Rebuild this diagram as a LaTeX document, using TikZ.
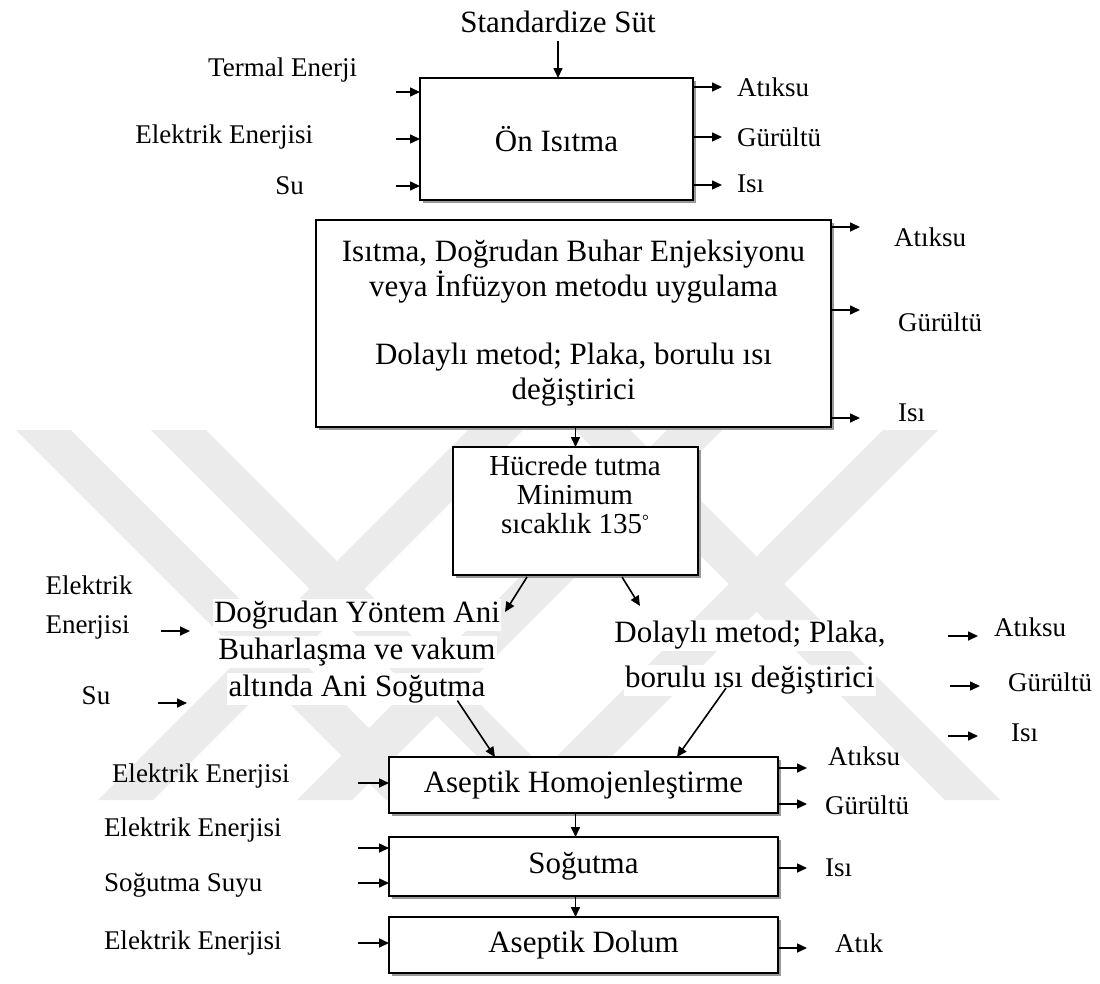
\documentclass[tikz,border=0pt]{standalone}
\usepackage{fontspec}
\setmainfont{Liberation Serif}
\usetikzlibrary{arrows.meta,calc,shadows}

\newcommand{\mainfs}{\fontsize{31}{36}\selectfont}
\newcommand{\lblfs}{\fontsize{27}{31}\selectfont}
\newcommand{\wl}[1]{{\setlength{\fboxsep}{1.5pt}\colorbox{white}{#1}}}
\newcommand{\degmark}{\raisebox{7pt}{\fontsize{17}{17}\selectfont °}}

\begin{document}
\begin{tikzpicture}[x=1pt,y=-1pt,
  every node/.style={inner sep=0pt, outer sep=0pt},
  proc/.style={draw=black, line width=2pt, fill=white,
    general shadow={fill=black!40, shadow xshift=3pt, shadow yshift=-3pt},
    font=\mainfs, align=center},
  lbl/.style={font=\lblfs},
  flowtxt/.style={font=\mainfs, align=center},
  arr/.style={line width=1.6pt, -{Triangle[length=10pt,width=9pt]}},
  wmband/.style={fill=black!8},
]
\useasboundingbox (0,0) rectangle (1100,983);
\fill[white] (0,0) rectangle (1100,983);

% faint background stripes
\foreach \t in {16,151,575}
  \fill[wmband] (\t,430) -- ++(55,0) -- ++(370,370) -- ++(-55,0) -- cycle;
\foreach \b in {98,297,513}
  \fill[wmband] (\b,800) -- ++(55,0) -- ++(370,-370) -- ++(-55,0) -- cycle;

% ---------- process boxes ----------
\node[proc, minimum width=273, minimum height=122] (b1) at (556.5,139) {Ön Isıtma};
\node[proc, minimum width=515, minimum height=207, font=\fontsize{31}{35}\selectfont] (b2) at (573.5,323.5)
  {Isıtma, Doğrudan Buhar Enjeksiyonu\\veya İnfüzyon metodu uygulama\\[33pt]Dolaylı metod; Plaka, borulu ısı\\değiştirici};
\node[proc, minimum width=245, minimum height=128] (b3) at (575.5,511) {};
\node[flowtxt, font=\fontsize{29}{29}\selectfont] (b3t) at (575,495) {Hücrede tutma\\Minimum\\sıcaklık 135\degmark};
\node[proc, minimum width=389, minimum height=56] (b4) at (583.5,785) {Aseptik Homojenleştirme};
\node[proc, minimum width=389, minimum height=59] (b5) at (583.5,866.5) {Soğutma};
\node[proc, minimum width=389, minimum height=56] (b6) at (583.5,945) {Aseptik Dolum};

% ---------- free-standing process texts ----------
\node[flowtxt, font=\fontsize{31}{37}\selectfont] (dy) at (357,652)
  {\wl{Doğrudan Yöntem Ani}\\\wl{Buharlaşma ve vakum}\\\wl{altında Ani Soğutma}};
\node[flowtxt, font=\fontsize{31}{45}\selectfont] (dl) at (750,658)
  {\wl{Dolaylı metod; Plaka,}\\\wl{borulu ısı değiştirici}};

% ---------- main flow ----------
\node[flowtxt] (std) at (558,22) {Standardize Süt};
\draw[arr] ($(std.south)+(0,8)$) -- (std.south |- b1.north);
\draw[arr] (b2.south -| b3.north) -- (b3.north);
\coordinate (dyin) at (505,612);
\coordinate (dlin) at (640,606);
\draw[arr] ($(b3.south west)+(74,2)$) -- (dyin);
\draw[arr] ($(b3.south west)+(169,2)$) -- (dlin);
\draw[arr] ($(dy.south east)+(-44,-4)$) -- ($(b4.north west)+(106,0)$);
\draw[arr] ($(dl.south)+(-24,-8)$) -- ($(b4.north west)+(288,0)$);
\draw[arr] (b4.south -| b3.south) -- (b5.north -| b3.south);
\draw[arr] (b5.south -| b3.south) -- (b6.north -| b3.south);

% ---------- inputs and outputs of Ön Isıtma ----------
\node[lbl, anchor=east] (t1) at (357,70) {Termal Enerji};
\node[lbl, anchor=east] (e1) at (313,137) {Elektrik Enerjisi};
\node[lbl, anchor=east] (s1) at (304,186) {Su};
\foreach \y/\n in {92/a,139/b,186/c}{
  \coordinate (i1\n) at (396,\y);
  \draw[arr] (i1\n) -- (i1\n -| b1.west);
}
\foreach \y/\n in {87/a,137/b,185/c}{
  \coordinate (o1\n) at (722,\y);
  \draw[arr] (o1\n -| b1.east) -- (o1\n);
}
\node[lbl, anchor=west] (w1) at (737,87) {Atıksu};
\node[lbl, anchor=west] (g1) at (737,137) {Gürültü};
\node[lbl, anchor=west] (h1) at (737,184) {Isı};

% ---------- outputs of the heating box ----------
\foreach \y/\n in {227/a,310/b,418/c}{
  \coordinate (o2\n) at (860,\y);
  \draw[arr] (o2\n -| b2.east) -- (o2\n);
}
\node[lbl, anchor=west] (w2) at (894,237) {Atıksu};
\node[lbl, anchor=west] (g2) at (898,322) {Gürültü};
\node[lbl, anchor=west] (h2) at (898,413) {Isı};

% ---------- direct method inputs ----------
\node[lbl, align=left, font=\fontsize{27}{39}\selectfont] (e3) at (89,607) {Elektrik\\Enerjisi};
\node[lbl] (s3) at (96,696) {Su};
\coordinate (i3a) at (161,631);
\coordinate (i3a') at (190,631);
\coordinate (i3b) at (158,703);
\coordinate (i3b') at (187,703);
\draw[arr] (i3a) -- (i3a');
\draw[arr] (i3b) -- (i3b');

% ---------- indirect method outputs ----------
\coordinate (o3a) at (948,636);  \coordinate (o3a') at (978,636);
\coordinate (o3b) at (950,686);  \coordinate (o3b') at (980,686);
\coordinate (o3c) at (948,736);  \coordinate (o3c') at (978,736);
\draw[arr] (o3a) -- (o3a');
\draw[arr] (o3b) -- (o3b');
\draw[arr] (o3c) -- (o3c');
\node[lbl, anchor=west] (w3) at (994,627) {Atıksu};
\node[lbl, anchor=west] (g3) at (1008,682) {Gürültü};
\node[lbl, anchor=west] (h3) at (1011,733) {Isı};

% ---------- homogenisation, cooling, filling ----------
\node[lbl, anchor=west] (e4) at (112,776) {Elektrik Enerjisi};
\coordinate (i4) at (358,783);
\draw[arr] (i4) -- (i4 -| b4.west);
\foreach \y/\n in {768/a,804/b}{
  \coordinate (o4\n) at (807,\y);
  \draw[arr] (o4\n -| b4.east) -- (o4\n);
}
\node[lbl, anchor=west] (w4) at (828,756) {Atıksu};
\node[lbl, anchor=west] (g4) at (825,805) {Gürültü};

\node[lbl, anchor=west] (e5) at (104,830) {Elektrik Enerjisi};
\node[lbl, anchor=west] (s5) at (104,885) {Soğutma Suyu};
\foreach \y/\n in {848/a,883/b}{
  \coordinate (i5\n) at (358,\y);
  \draw[arr] (i5\n) -- (i5\n -| b5.west);
}
\coordinate (o5) at (807,868);
\draw[arr] (o5 -| b5.east) -- (o5);
\node[lbl, anchor=west] (h5) at (825,868) {Isı};

\node[lbl, anchor=west] (e6) at (104,943) {Elektrik Enerjisi};
\coordinate (i6) at (358,943);
\draw[arr] (i6) -- (i6 -| b6.west);
\coordinate (o6) at (807,948);
\draw[arr] (o6 -| b6.east) -- (o6);
\node[lbl, anchor=west] (a6) at (835,943) {Atık};
\end{tikzpicture}
\end{document}
